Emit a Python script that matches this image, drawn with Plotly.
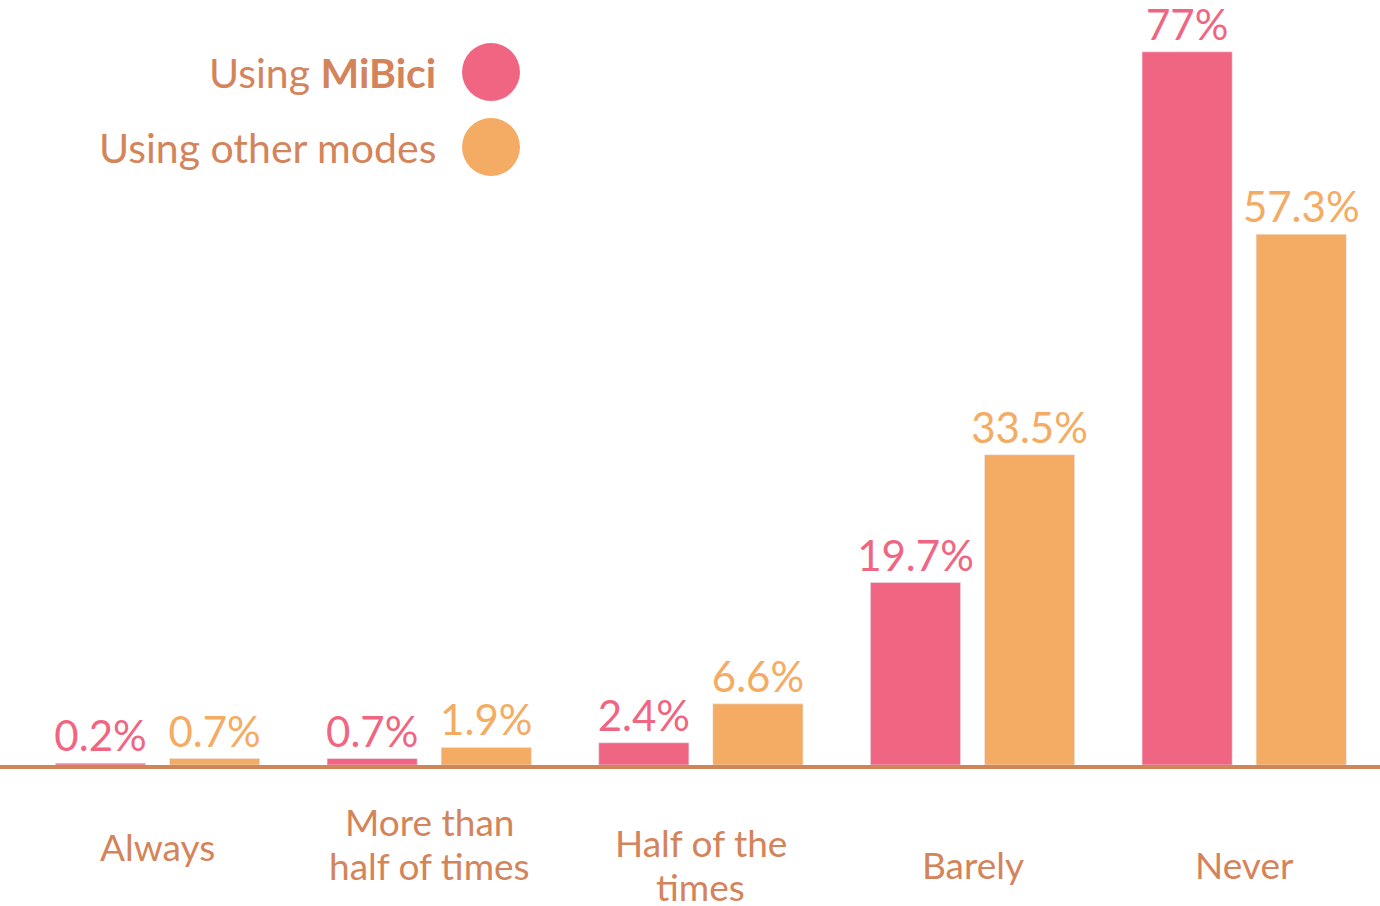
import plotly.graph_objects as go

categories = ["Always", "More than<br>half of times", "Half of the<br>times", "Barely", "Never"]
mibici = [0.2, 0.7, 2.4, 19.7, 77]
other_modes = [0.7, 1.9, 6.6, 33.5, 57.3]
series_names = ["Using <b>MiBici</b>", "Using other modes"]

PINK = "#F06682"
ORANGE = "#F4AB63"
BROWN = "#D4845A"
FONT = "Lato"

W, H = 1380, 906
MB = 141
PH = H - MB  # plot area height in px

fig = go.Figure()
for vals, col, name in [(mibici, PINK, series_names[0]), (other_modes, ORANGE, series_names[1])]:
    fig.add_trace(go.Bar(x=categories, y=vals, marker_color=col, name=name,
                         texttemplate="%{y}%", textposition="outside", constraintext="none",
                         textfont=dict(color=col, size=42, family=FONT), cliponaxis=False,
                         hoverinfo="skip"))

# category labels as annotations, one per line (vertical offsets per label)
label_shift = [-57, -32, -53, -75, -75]
LINE_STEP = 44
for cat, ys in zip(categories, label_shift):
    for j, line in enumerate(cat.split("<br>")):
        fig.add_annotation(x=cat, y=0, xref="x", yref="y", text=line, showarrow=False,
                           yanchor="top", yshift=ys - LINE_STEP * j,
                           font=dict(size=37, color=BROWN, family=FONT))

# legend (pixel positions converted to plot-area fractions)
for i, (name, col) in enumerate(zip(series_names, [PINK, ORANGE])):
    py = 72 + 75 * i
    yc = 1 - py / PH
    fig.add_annotation(x=438 / W, y=yc, xref="paper", yref="paper", text=name,
                       showarrow=False, xanchor="right", yanchor="middle",
                       font=dict(size=41, color=BROWN, family=FONT))
    fig.add_shape(type="circle", xref="paper", yref="paper",
                  x0=462 / W, x1=520 / W, y0=yc - 29 / PH, y1=yc + 29 / PH,
                  fillcolor=col, line=dict(width=0))

fig.update_layout(
    width=W, height=H,
    margin=dict(l=0, r=0, t=0, b=MB, pad=0),
    paper_bgcolor="white", plot_bgcolor="white",
    barmode="group", bargap=0.16, bargroupgap=0.21,
    showlegend=False,
    font=dict(family=FONT, color=BROWN),
    xaxis=dict(range=[-0.58, 4.5], showticklabels=False, showgrid=False, zeroline=False,
               showline=True, linecolor="#D08558", linewidth=4, ticks=""),
    yaxis=dict(range=[0, 82.6], visible=False, showgrid=False),
)

fig.write_html("out.html", config={"displayModeBar": False},
               post_script="document.body.style.margin='0';document.body.style.overflow='hidden';")
